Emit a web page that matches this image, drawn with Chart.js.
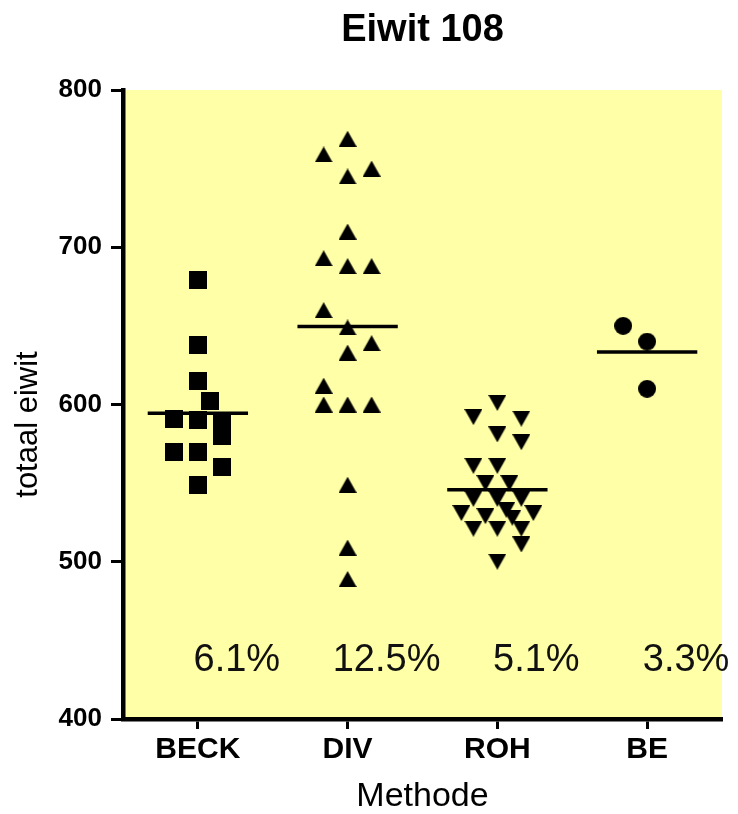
<!DOCTYPE html>
<html>
<head>
<meta charset="utf-8">
<script src="https://cdn.jsdelivr.net/npm/chart.js@4"></script>
<style>
  html, body { margin: 0; padding: 0; background: #fff; }
</style>
</head>
<body>
<canvas id="myChart" width="738" height="814"></canvas>
<script>
const categories = ['BECK', 'DIV', 'ROH', 'BE'];
const cvLabels = ['6.1%', '12.5%', '5.1%', '3.3%'];
const yTicks = [400, 500, 600, 700, 800];

// values, plus the swarm column each dot sits in
const beckValues = [679, 638, 615, 602, 591, 590, 589, 580, 570, 570, 560, 549];
const beckColumns = [0, 0, 0, 1, -2, 0, 2, 2, -2, 0, 2, 0];
const divValues = [769, 759, 750, 745, 710, 693, 688, 688, 660, 649, 639, 633, 612, 600, 600, 600, 549, 509, 489];
const divColumns = [0, -2, 2, 0, 0, -2, 0, 2, -2, 0, 2, 0, -2, -2, 0, 2, 0, 0, 0];
const rohValues = [601, 592, 591, 581, 576, 561, 561, 550, 550, 540, 540, 540, 531, 529, 533, 528, 531, 521, 521, 521, 511, 500];
const rohColumns = [0, -2, 2, 0, 2, -2, 0, -1, 1, -2, 0, 2, -3, -1, 0.75, 1.25, 3, -2, 0, 2, 2, 0];
const beValues = [650, 640, 610];
const beColumns = [-2, 0, 0];

const font = '"Liberation Sans", Arial, sans-serif';
const colStep = 0.08;     // one swarm column in x units
const halfLine = 0.335;   // half length of the mean line

function makeMarker(shape, w, h) {
    let c = document.createElement('canvas');
    c.width = w;
    c.height = h;
    let g = c.getContext('2d');
    g.fillStyle = '#000';
    g.beginPath();
    if (shape == 'square') g.rect(0, 0, w, h);
    if (shape == 'up') { g.moveTo(w / 2, 0); g.lineTo(w, h); g.lineTo(0, h); }
    if (shape == 'down') { g.moveTo(0, 0); g.lineTo(w, 0); g.lineTo(w / 2, h); }
    if (shape == 'circle') g.arc(w / 2, h / 2, w / 2, 0, Math.PI * 2);
    g.closePath();
    g.fill();
    return c;
}

function dots(values, columns, pos) {
    return values.map((v, i) => ({ x: pos + columns[i] * colStep, y: v }));
}

function meanLine(values, pos) {
    let m = values.reduce((a, b) => a + b, 0) / values.length;
    return [{ x: pos - halfLine, y: m }, { x: pos + halfLine, y: m }];
}

const groups = [
    { values: beckValues, columns: beckColumns, marker: makeMarker('square', 18, 18) },
    { values: divValues, columns: divColumns, marker: makeMarker('up', 18, 16) },
    { values: rohValues, columns: rohColumns, marker: makeMarker('down', 18, 16) },
    { values: beValues, columns: beColumns, marker: makeMarker('circle', 18, 18) }
];

let datasets = [];
groups.forEach((grp, i) => {
    datasets.push({
        data: dots(grp.values, grp.columns, i + 1),
        pointStyle: grp.marker,
        pointRadius: 9,
        backgroundColor: '#000'
    });
    datasets.push({
        data: meanLine(grp.values, i + 1),
        showLine: true,
        borderColor: '#000',
        borderWidth: 3.5,
        pointRadius: 0
    });
});

const plotBackground = {
    id: 'plotBackground',
    beforeDraw(chart) {
        const { ctx, chartArea } = chart;
        ctx.save();
        ctx.fillStyle = '#fff';
        ctx.fillRect(0, 0, chart.width, chart.height);
        ctx.fillStyle = '#ffffa8';
        ctx.fillRect(chartArea.left, chartArea.top, chartArea.right - chartArea.left, chartArea.bottom - chartArea.top);
        ctx.restore();
    }
};

// y title drawn by hand: it sits a little below the middle of the axis
const yTitle = {
    id: 'yTitle',
    afterDraw(chart) {
        const { ctx, chartArea } = chart;
        ctx.save();
        ctx.translate(28, (chartArea.top + chartArea.bottom) / 2 + 20);
        ctx.rotate(-Math.PI / 2);
        ctx.font = '31px ' + font;
        ctx.fillStyle = '#000';
        ctx.textAlign = 'center';
        ctx.textBaseline = 'middle';
        ctx.fillText('totaal eiwit', 0, 0);
        ctx.restore();
    }
};

const cvText = {
    id: 'cvText',
    afterDatasetsDraw(chart) {
        const { ctx, scales } = chart;
        ctx.save();
        ctx.font = '38px ' + font;
        ctx.fillStyle = '#111';
        ctx.textAlign = 'center';
        ctx.textBaseline = 'middle';
        cvLabels.forEach((t, i) => {
            ctx.fillText(t, scales.x.getPixelForValue(i + 1.26), scales.y.getPixelForValue(437));
        });
        ctx.restore();
    }
};

new Chart(document.getElementById('myChart'), {
    type: 'scatter',
    data: { datasets: datasets },
    options: {
        responsive: false,
        animation: false,
        events: [],
        layout: { padding: { left: 0, right: 16, top: 0, bottom: 0 } },
        plugins: {
            legend: { display: false },
            tooltip: { enabled: false },
            title: {
                display: true,
                text: 'Eiwit 108',
                fullSize: false,
                color: '#000',
                font: { family: font, size: 38, weight: 'bold' },
                padding: { top: 8, bottom: 36.4 }
            }
        },
        scales: {
            x: {
                type: 'linear',
                min: 0.5,
                max: 4.5,
                afterBuildTicks: (scale) => { scale.ticks = categories.map((c, i) => ({ value: i + 1 })); },
                afterFit: (scale) => { scale.height = 95; },
                ticks: {
                    callback: (v) => categories[v - 1],
                    color: '#000',
                    padding: 3,
                    font: { family: font, size: 30, weight: 'bold' }
                },
                grid: { drawOnChartArea: false, drawTicks: true, tickLength: 10, tickWidth: 3, tickColor: '#000' },
                border: { display: true, color: '#000', width: 4.5 },
                title: {
                    display: true,
                    text: 'Methode',
                    color: '#000',
                    font: { family: font, size: 34, lineHeight: 1 },
                    padding: { top: 0, bottom: 0 }
                }
            },
            y: {
                min: 400,
                max: 800,
                afterBuildTicks: (scale) => { scale.ticks = yTicks.map(v => ({ value: v })); },
                afterFit: (scale) => { scale.width = 123; },
                ticks: {
                    color: '#000',
                    padding: 9,
                    font: { family: font, size: 26, weight: 'bold' }
                },
                grid: { drawOnChartArea: false, drawTicks: true, tickLength: 12, tickWidth: 3, tickColor: '#000' },
                border: { display: true, color: '#000', width: 4.5 }
            }
        }
    },
    plugins: [plotBackground, cvText, yTitle]
});
</script>
</body>
</html>
